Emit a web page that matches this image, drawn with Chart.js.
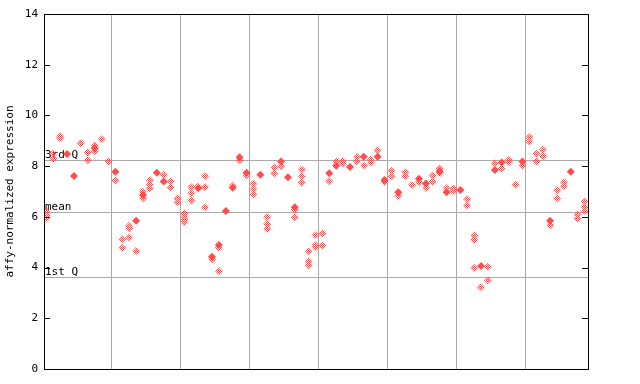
<!DOCTYPE html>
<html>
<head>
<meta charset="utf-8">
<script src="https://cdn.jsdelivr.net/npm/chart.js@4/dist/chart.umd.min.js"></script>
<style>
html,body{margin:0;padding:0;background:#fff;}
#wrap{width:640px;height:384px;}
</style>
</head>
<body>
<div id="wrap"><canvas id="c" width="640" height="384"></canvas></div>
<script>
// Column-wise sample values (one array per sample column)
const hollowValues = [
  [6.2,6.05,5.95],[8.5,8.28],[9.18,9.1],[],[],[8.9],[8.55,8.24],[8.8,8.6],[9.06],[8.19],
  [7.44],[5.13,4.77],[5.65,5.55,5.19],[4.65],[6.99,6.73],[7.45,7.28,7.13],[],[7.65],[7.41,7.17],[6.73,6.59],
  [6.14,6.01,5.9,5.79],[7.17,6.93,6.66],[7.2],[7.61,7.17,6.38],[4.33],[4.78,3.86],[],[7.22],[8.24],[7.65],
  [7.32,7.09,6.9],[],[5.98,5.72,5.52],[7.95,7.72],[8.0],[],[6.27,5.98],[7.87,7.61,7.36],[4.65,4.26,4.1],[5.27,4.88,4.8],
  [5.35,4.88],[7.4],[8.18],[8.19,8.1],[],[8.37,8.19],[8.03],[8.24,8.14],[8.64],[7.37],
  [7.81,7.61],[6.82],[7.77,7.61],[7.26],[7.37],[7.15],[7.62,7.39],[7.91,7.72],[7.13],[7.13,7.01],
  [],[6.69,6.45],[5.27,5.09,3.98],[3.22],[4.03,3.5],[8.11],[7.91],[8.24,8.15],[7.26],[8.02],
  [9.14,8.97],[8.5,8.18],[8.66,8.4],[5.67],[7.05,6.73],[7.37,7.22],[],[6.1,5.93],[6.6,6.4,6.24]
];
const solidValues = [
  [],[],[],[8.48],[7.61],[],[],[8.72],[],[],
  [7.78],[],[],[5.85],[6.86],[],[7.74],[7.39],[],[],
  [],[],[7.13],[],[4.43],[4.89],[6.23],[7.15],[8.35],[7.74],
  [],[7.66],[],[],[8.18],[7.56],[6.38],[],[],[],
  [],[7.72],[8.02],[],[7.97],[],[8.37],[],[8.37],[7.45],
  [],[6.97],[],[],[7.5],[7.32],[],[7.8],[6.97],[],
  [7.06],[],[],[4.06],[],[7.85],[8.14],[],[],[8.18],
  [],[],[],[5.85],[],[],[7.78],[],[]
];
const groupSeparators = [9.5,19.5,29.5,39.5,49.5,59.5,69.5];
const refLines = [
  {label:'3rd Q', value:8.23},
  {label:'mean', value:6.2},
  {label:'1st Q', value:3.61}
];
const yTicks = [0,2,4,6,8,10,12,14];
const yTitle = 'affy-normalized expression';

const RED = '#ff4d4d';
const MONO = '"DejaVu Sans Mono", "Liberation Mono", monospace';

function toPoints(cols){
  const pts=[];
  cols.forEach((vals,k)=>vals.forEach(v=>pts.push({x:k,y:v})));
  return pts;
}

// checkered fill pattern
const pc=document.createElement('canvas');pc.width=2;pc.height=2;
const pctx=pc.getContext('2d');
pctx.fillStyle=RED;pctx.fillRect(0,0,1,1);pctx.fillRect(1,1,1,1);
const checker=document.getElementById('c').getContext('2d').createPattern(pc,'repeat');

const framePlugin={
  id:'frame',
  beforeDatasetsDraw(chart){
    const {ctx,chartArea:a,scales:{y}}=chart;
    ctx.save();
    ctx.strokeStyle='#aaaaaa';ctx.lineWidth=1;
    refLines.forEach(r=>{
      const py=Math.round(y.getPixelForValue(r.value))+0.5;
      ctx.beginPath();ctx.moveTo(a.left,py);ctx.lineTo(a.right,py);ctx.stroke();
    });
    ctx.fillStyle='#000';ctx.font='11px '+MONO;ctx.textBaseline='bottom';ctx.textAlign='left';
    refLines.forEach(r=>{
      const py=Math.round(y.getPixelForValue(r.value));
      ctx.fillText(r.label,a.left+1,py+1);
    });
    ctx.restore();
  },
  afterDraw(chart){
    const {ctx,chartArea:a,scales:{y}}=chart;
    ctx.save();
    ctx.strokeStyle='#000';ctx.lineWidth=1;
    ctx.strokeRect(Math.round(a.left)+0.5,Math.round(a.top)+0.5,Math.round(a.right-a.left),Math.round(a.bottom-a.top));
    yTicks.forEach(v=>{
      const py=Math.round(y.getPixelForValue(v))+0.5;
      ctx.beginPath();ctx.moveTo(a.left,py);ctx.lineTo(a.left+6,py);ctx.stroke();
      ctx.beginPath();ctx.moveTo(a.right-6,py);ctx.lineTo(a.right,py);ctx.stroke();
    });
    ctx.restore();
  }
};

new Chart(document.getElementById('c'),{
  type:'scatter',
  data:{datasets:[
    {label:'hollow',data:toPoints(hollowValues),pointStyle:'rectRot',pointRadius:4,
     backgroundColor:checker,borderWidth:0,borderColor:'rgba(0,0,0,0)'},
    {label:'solid',data:toPoints(solidValues),pointStyle:'rectRot',pointRadius:4,
     backgroundColor:RED,borderWidth:0,borderColor:'rgba(0,0,0,0)'}
  ]},
  options:{
    responsive:false,animation:false,
    layout:{padding:{top:14,right:52,left:0,bottom:0}},
    plugins:{legend:{display:false},tooltip:{enabled:false}},
    scales:{
      x:{type:'linear',min:-0.35,max:78.5,
        afterBuildTicks(s){s.ticks=groupSeparators.map(v=>({value:v}));},
        afterFit(s){s.height=15;},
        ticks:{display:false},
        grid:{color:'#aaaaaa',lineWidth:1,drawTicks:false},
        border:{display:true,color:'#000'}},
      y:{type:'linear',min:0,max:14,
        afterBuildTicks(s){s.ticks=yTicks.map(v=>({value:v}));},
        afterFit(s){s.width=44;},
        ticks:{color:'#000',font:{family:MONO,size:11},padding:6},
        grid:{display:false,drawTicks:false},
        border:{display:true,color:'#000'},
        title:{display:true,text:yTitle,color:'#000',font:{family:MONO,size:11},padding:{top:4,bottom:0}}}
    }
  },
  plugins:[framePlugin]
});
</script>
</body>
</html>
